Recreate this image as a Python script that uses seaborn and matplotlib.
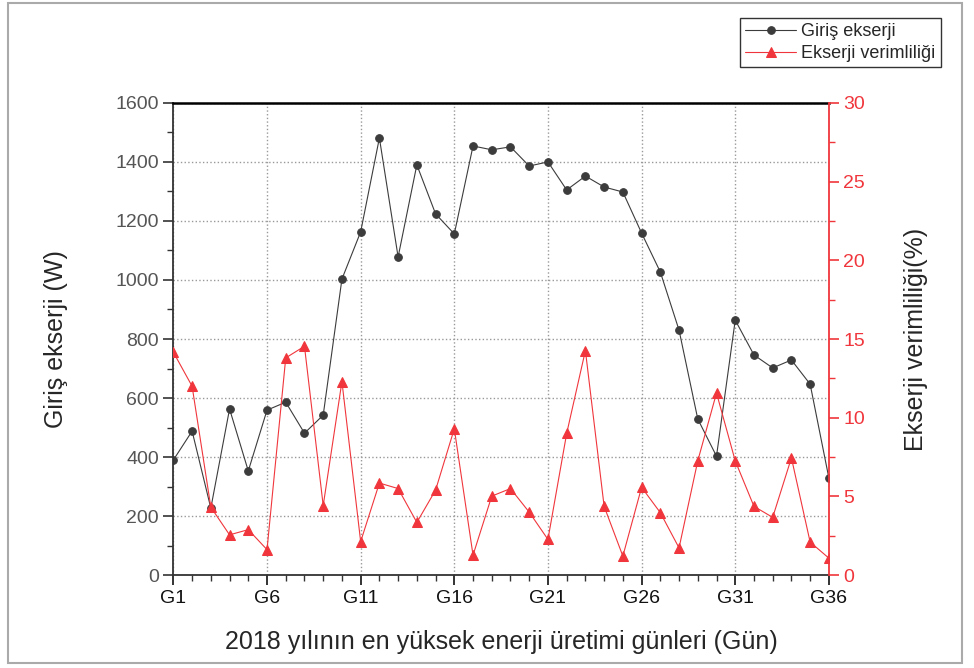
import numpy as np
import pandas as pd
import matplotlib
matplotlib.use('Agg')
import matplotlib.pyplot as plt
from matplotlib.patches import Rectangle
from matplotlib.ticker import MultipleLocator
import seaborn as sns

# data
days = [f'G{i}' for i in range(1, 37)]
giris_ekserji = [390, 488, 227, 563, 353, 559, 586, 481, 542, 1003,
                 1163, 1481, 1078, 1390, 1224, 1156, 1454, 1441, 1451, 1386,
                 1400, 1305, 1352, 1315, 1298, 1159, 1027, 830, 529, 403,
                 864, 746, 702, 729, 647, 329]
verimlilik = [14.16, 12.0, 4.32, 2.56, 2.89, 1.62, 13.8, 14.54, 4.42, 12.3,
              2.13, 5.85, 5.5, 3.35, 5.4, 9.3, 1.27, 5.02, 5.5, 4.0,
              2.27, 9.0, 14.27, 4.37, 1.21, 5.58, 3.97, 1.73, 7.26, 11.57,
              7.26, 4.37, 3.67, 7.45, 2.1, 1.08]

df = pd.DataFrame({'gun': np.arange(1, 37), 'ekserji': giris_ekserji, 'verim': verimlilik})

sns.set_style('ticks')
plt.rcParams['font.family'] = ['Liberation Sans', 'DejaVu Sans']

black = '#3c3c3c'
red = '#f0363c'
gray = '#555555'

fig = plt.figure(figsize=(9.74, 6.68), dpi=100)
ax = fig.add_axes([0.178, 0.139, 0.673, 0.707])
ax2 = ax.twinx()

sns.lineplot(data=df, x='gun', y='ekserji', ax=ax, color=black, marker='o',
             markersize=5.5, linewidth=0.8, markeredgecolor=black, label='Giriş ekserji', legend=False)
sns.lineplot(data=df, x='gun', y='verim', ax=ax2, color=red, marker='^',
             markersize=6.5, linewidth=0.8, markeredgecolor=red, label='Ekserji verimliliği', legend=False)

ax.set_xlim(1, 36)
ax.set_ylim(0, 1600)
ax2.set_ylim(0, 30)
ax.set_xticks(np.arange(1, 37, 5))
ax.set_xticklabels([days[i - 1] for i in range(1, 37, 5)])
ax.xaxis.set_minor_locator(MultipleLocator(1))
ax.yaxis.set_major_locator(MultipleLocator(200))
ax.yaxis.set_minor_locator(MultipleLocator(100))
ax2.yaxis.set_major_locator(MultipleLocator(5))
ax2.yaxis.set_minor_locator(MultipleLocator(2.5))

ax.grid(True, which='major', linestyle=':', color='#999999', linewidth=1)
ax.set_axisbelow(True)

ax.set_xlabel('2018 yılının en yüksek enerji üretimi günleri (Gün)', fontsize=18, labelpad=17)
ax.set_ylabel('Giriş ekserji (W)', fontsize=18, labelpad=34)
ax2.set_ylabel('Ekserji verimliliği(%)', fontsize=18, labelpad=28)

ax.tick_params(axis='y', which='major', labelsize=14, length=7, width=1.2,
               colors='#333333', labelcolor=gray)
ax.tick_params(axis='x', which='major', labelsize=14, length=7, width=1.2,
               colors='#111111', labelcolor='#111111')
ax.tick_params(axis='both', which='minor', length=4, width=1, colors='#333333')
ax2.tick_params(axis='y', which='major', labelsize=14, length=7, width=1.2, colors=red)
ax2.tick_params(axis='y', which='minor', length=4, width=1, colors=red)

for side in ['left', 'bottom']:
    ax.spines[side].set_color('#333333')
    ax.spines[side].set_linewidth(1.3)
ax.spines['top'].set_color('black')
ax.spines['top'].set_linewidth(1.8)
ax2.spines['right'].set_color(red)
ax2.spines['right'].set_linewidth(1.3)
ax2.spines['top'].set_visible(False)
ax2.spines['left'].set_visible(False)
ax2.spines['bottom'].set_visible(False)
ax.spines['right'].set_visible(False)

h1, l1 = ax.get_legend_handles_labels()
h2, l2 = ax2.get_legend_handles_labels()
fig.legend(h1 + h2, l1 + l2, loc='upper right', bbox_to_anchor=(0.966, 0.973),
           fontsize=13, frameon=True, fancybox=False, edgecolor='#333333',
           framealpha=1, borderpad=0.3, labelspacing=0.25, handlelength=2.8,
           handletextpad=0.3, borderaxespad=0)

fig.patches.append(Rectangle((0.008, 0.008), 0.98, 0.987, transform=fig.transFigure,
                             fill=False, edgecolor='#aaaaaa', linewidth=1.5))

fig.savefig('out.png', dpi=100)
